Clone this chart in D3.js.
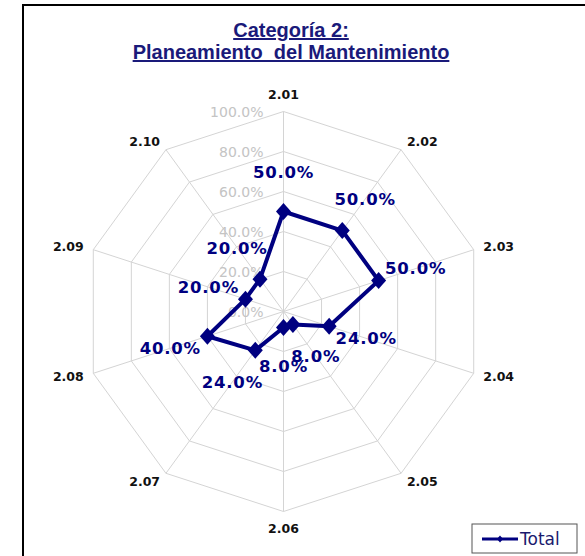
<!DOCTYPE html>
<html>
<head>
<meta charset="utf-8">
<script src="https://cdn.jsdelivr.net/npm/d3@7"></script>
<style>
  body { margin: 0; background: #fff; }
  svg { display: block; }
</style>
</head>
<body>
<svg id="radar"></svg>
<script>
// chart values
const categories = ["2.01", "2.02", "2.03", "2.04", "2.05", "2.06", "2.07", "2.08", "2.09", "2.10"];
const totals = [50, 50, 50, 24, 8, 8, 24, 40, 20, 20];
const tickValues = [0, 20, 40, 60, 80, 100];
const titleLines = ["Categoría 2:", "Planeamiento  del Mantenimiento"];
const seriesName = "Total";

const width = 585, height = 556;
const cx = 283.5, cy = 311.5, radius = 200;
const navy = "#000080", gridColor = "#d4d4d4";

var svg = d3.select("#radar")
    .attr("width", width)
    .attr("height", height)
    .attr("viewBox", [0, 0, width, height]);

// outer chart frame (runs off the right and bottom edge)
svg.append("rect")
    .attr("x", 23).attr("y", 5)
    .attr("width", 600).attr("height", 600)
    .attr("fill", "#fff")
    .attr("stroke", "#000")
    .attr("stroke-width", 2);

// title
var title = svg.append("text")
    .attr("text-anchor", "middle")
    .style("font-family", "'Liberation Sans', Arial, sans-serif")
    .style("font-size", "20px")
    .style("font-weight", "bold")
    .style("text-decoration", "underline")
    .attr("fill", "#1a1a7a");
title.selectAll("tspan")
    .data(titleLines)
  .enter().append("tspan")
    .attr("x", 291)
    .attr("y", function(d, i) { return 37 + i * 22; })
    .style("white-space", "pre")
    .text(function(d) { return d; });

// scales
var rScale = d3.scaleLinear().domain([0, 100]).range([0, radius]);
var aScale = d3.scaleLinear().domain([0, categories.length]).range([0, 2 * Math.PI]);

function px(i, r) { return cx + r * Math.sin(aScale(i)); }
function py(i, r) { return cy - r * Math.cos(aScale(i)); }

var g = svg.append("g");

// rings
g.selectAll(".ring")
    .data(tickValues.filter(function(v) { return v > 0; }))
  .enter().append("polygon")
    .attr("class", "ring")
    .attr("points", function(v) {
      return categories.map(function(c, i) {
        return px(i, rScale(v)) + "," + py(i, rScale(v));
      }).join(" ");
    })
    .attr("fill", "none")
    .attr("stroke", gridColor)
    .attr("stroke-width", 1);

// spokes
g.selectAll(".spoke")
    .data(categories)
  .enter().append("line")
    .attr("class", "spoke")
    .attr("x1", cx).attr("y1", cy)
    .attr("x2", function(d, i) { return px(i, radius); })
    .attr("y2", function(d, i) { return py(i, radius); })
    .attr("stroke", gridColor)
    .attr("stroke-width", 1);

// radial tick labels
g.selectAll(".tick")
    .data(tickValues)
  .enter().append("text")
    .attr("class", "tick")
    .attr("x", cx - 20)
    .attr("y", function(v) { return cy - rScale(v); })
    .attr("dy", "0.36em")
    .attr("text-anchor", "end")
    .style("font-family", "'DejaVu Sans', Verdana, sans-serif")
    .style("font-size", "14px")
    .attr("fill", "#c4c4c4")
    .text(function(v) { return d3.format(".1f")(v) + "%"; });

// category labels
g.selectAll(".cat")
    .data(categories)
  .enter().append("text")
    .attr("class", "cat")
    .attr("x", function(d, i) {
      var s = Math.sin(aScale(i));
      return px(i, radius + (Math.abs(s) < 0.01 ? 0 : 10));
    })
    .attr("y", function(d, i) {
      var c = Math.cos(aScale(i));
      return py(i, radius + (Math.abs(c) > 0.99 ? 17 : 10));
    })
    .attr("dy", "0.36em")
    .attr("text-anchor", function(d, i) {
      var s = Math.sin(aScale(i));
      return Math.abs(s) < 0.01 ? "middle" : (s > 0 ? "start" : "end");
    })
    .style("font-family", "'DejaVu Sans', Verdana, sans-serif")
    .style("font-size", "12.5px")
    .style("font-weight", "bold")
    .attr("fill", "#111")
    .text(function(d) { return d; });

// series line
var line = d3.lineRadial()
    .angle(function(d, i) { return aScale(i); })
    .radius(function(d) { return rScale(d); })
    .curve(d3.curveLinearClosed);

g.append("path")
    .datum(totals)
    .attr("transform", "translate(" + cx + "," + cy + ")")
    .attr("d", line)
    .attr("fill", "none")
    .attr("stroke", navy)
    .attr("stroke-width", 4)
    .attr("stroke-linejoin", "round");

// diamond markers
g.selectAll(".marker")
    .data(totals)
  .enter().append("path")
    .attr("class", "marker")
    .attr("transform", function(d, i) {
      return "translate(" + px(i, rScale(d)) + "," + py(i, rScale(d)) + ")";
    })
    .attr("d", "M0,-8.5L7.5,0L0,8.5L-7.5,0Z")
    .attr("fill", navy);

// data labels
g.selectAll(".val")
    .data(totals)
  .enter().append("text")
    .attr("class", "val")
    .attr("x", function(d, i) { return px(i, rScale(d) + 39); })
    .attr("y", function(d, i) { return py(i, rScale(d) + 39); })
    .attr("dy", "0.36em")
    .attr("text-anchor", "middle")
    .style("font-family", "'DejaVu Sans', Verdana, sans-serif")
    .style("font-size", "16.5px")
    .style("font-weight", "bold")
    .style("letter-spacing", "0.8px")
    .attr("fill", navy)
    .text(function(d) { return d3.format(".1f")(d) + "%"; });

// legend
var legend = svg.append("g").attr("transform", "translate(472,524)");
legend.append("rect")
    .attr("width", 105).attr("height", 29)
    .attr("fill", "#fff")
    .attr("stroke", "#555")
    .attr("stroke-width", 1);
legend.append("line")
    .attr("x1", 10).attr("x2", 46)
    .attr("y1", 15).attr("y2", 15)
    .attr("stroke", navy)
    .attr("stroke-width", 3);
legend.append("path")
    .attr("transform", "translate(28,15)")
    .attr("d", "M0,-3.5L3,0L0,3.5L-3,0Z")
    .attr("fill", navy);
legend.append("text")
    .attr("x", 48).attr("y", 15)
    .attr("dy", "0.36em")
    .style("font-family", "'DejaVu Sans', Verdana, sans-serif")
    .style("font-size", "17px")
    .attr("fill", "#1a1a6e")
    .text(seriesName);
</script>
</body>
</html>
